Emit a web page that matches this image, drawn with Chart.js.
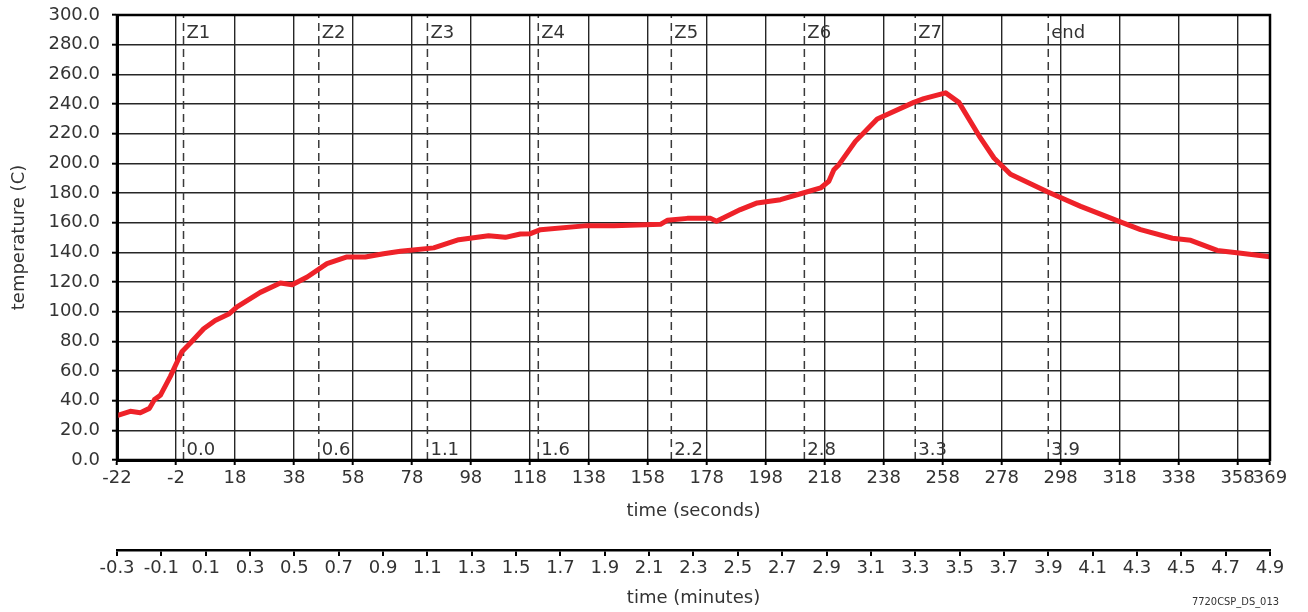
<!DOCTYPE html>
<html>
<head>
<meta charset="utf-8">
<script src="https://cdn.jsdelivr.net/npm/chart.js@4.4.1/dist/chart.umd.min.js"></script>
<style>
  html, body { margin: 0; padding: 0; background: #fff; }
  #wrap { position: relative; width: 1308px; height: 612px; }
</style>
</head>
<body>
<div id="wrap"><canvas id="c" width="1308" height="612"></canvas></div>
<script>
// ---- data ----
const timeSeconds = [-22, -17.5, -14.1, -11, -9.3, -7.3, -3.9, 0, 2.9, 7.4, 11.3, 15.9, 18.7, 26.6, 33.4, 37.4, 42.5, 49.2, 56, 62.2, 68.4, 74.1, 85.4, 93.9, 104, 109.7, 114.8, 118.2, 121.6, 137.4, 146.5, 162.3, 164.6, 171.4, 179.3, 181.3, 189.4, 195.1, 203, 209.8, 216.6, 219.4, 221.1, 222.8, 228.4, 235.8, 248.2, 251.6, 259, 263.5, 270.8, 275.4, 281, 293.5, 304.8, 317.8, 325.1, 335.9, 342.1, 351.1, 358.5, 369];
const temperature = [30, 32.8, 31.9, 34.8, 40.7, 43.6, 56.4, 73, 78.9, 88.5, 94.1, 98.4, 103.2, 113, 119.3, 118.2, 123.4, 132.4, 136.9, 136.9, 139.1, 140.7, 143, 148.5, 151.2, 150.1, 152.4, 152.6, 155.3, 158, 158, 158.9, 161.6, 162.9, 162.9, 160.9, 168.8, 173.3, 175.5, 179.5, 183.4, 187.9, 195.7, 199.1, 214.8, 229.9, 241.1, 243.6, 247.5, 241.1, 217.1, 203.6, 192.7, 180.8, 171, 160.9, 155.3, 149.5, 148.1, 141.3, 139.6, 137];
const secondTicks = [-22, -2, 18, 38, 58, 78, 98, 118, 138, 158, 178, 198, 218, 238, 258, 278, 298, 318, 338, 358, 369];
const minuteTicks = [-0.3, -0.1, 0.1, 0.3, 0.5, 0.7, 0.9, 1.1, 1.3, 1.5, 1.7, 1.9, 2.1, 2.3, 2.5, 2.7, 2.9, 3.1, 3.3, 3.5, 3.7, 3.9, 4.1, 4.3, 4.5, 4.7, 4.9];
const zoneNames = ['Z1', 'Z2', 'Z3', 'Z4', 'Z5', 'Z6', 'Z7', 'end'];
const zoneMinutes = [0.0, 0.61, 1.1, 1.6, 2.2, 2.8, 3.3, 3.9];
const zoneLabels = ['0.0', '0.6', '1.1', '1.6', '2.2', '2.8', '3.3', '3.9'];
const figureId = '7720CSP_DS_013';

const FONT = "'DejaVu Sans', sans-serif";
const TXT = '#333333';
const GRID = '#262626';

const profile = timeSeconds.map((t, i) => ({ x: t, y: temperature[i] }));
const zoneSets = zoneMinutes.map((m, i) => ({
  label: zoneNames[i],
  data: [{ x: m, y: 0 }, { x: m, y: 300 }],
  xAxisID: 'x2',
  borderColor: '#3a3a3a',
  borderWidth: 1.5,
  borderDash: [8, 5],
  pointRadius: 0,
  order: 2
}));

const overlay = {
  id: 'overlay',
  afterDatasetsDraw(chart) {
    const { ctx, chartArea, scales } = chart;
    ctx.save();
    ctx.font = '18px ' + FONT;
    ctx.fillStyle = TXT;
    ctx.textAlign = 'left';
    ctx.textBaseline = 'middle';
    zoneMinutes.forEach((m, i) => {
      const px = scales.x2.getPixelForValue(m);
      ctx.fillText(zoneNames[i], px + 3, chartArea.top + 18);
      ctx.fillText(zoneLabels[i], px + 3, chartArea.bottom - 10);
    });
    ctx.restore();
  },
  afterDraw(chart) {
    const { ctx, chartArea } = chart;
    ctx.save();
    ctx.strokeStyle = '#000';
    ctx.lineWidth = 2.5;
    ctx.strokeRect(chartArea.left, chartArea.top, chartArea.right - chartArea.left, chartArea.bottom - chartArea.top);
    ctx.font = "11px 'DejaVu Sans Condensed', 'DejaVu Sans', sans-serif";
    ctx.fillStyle = TXT;
    ctx.textAlign = 'right';
    ctx.textBaseline = 'middle';
    ctx.fillText(figureId, 1279, 602);
    ctx.restore();
  }
};

new Chart(document.getElementById('c'), {
  type: 'line',
  data: {
    datasets: [{
      label: 'temperature',
      data: profile,
      xAxisID: 'x',
      yAxisID: 'y',
      borderColor: '#ee2229',
      borderWidth: 5,
      pointRadius: 0,
      tension: 0,
      borderJoinStyle: 'round',
      borderCapStyle: 'round',
      order: 0
    }].concat(zoneSets)
  },
  options: {
    responsive: false,
    animation: false,
    events: [],
    layout: { padding: { top: 15, right: 38, left: 0, bottom: 0 } },
    plugins: { legend: { display: false }, tooltip: { enabled: false } },
    scales: {
      x: {
        type: 'linear',
        position: 'bottom',
        weight: 0,
        min: -22, max: 369,
        afterBuildTicks(s) { s.ticks = secondTicks.map(v => ({ value: v })); },
        afterFit(s) { s.height = 90; },
        ticks: { color: TXT, font: { family: FONT, size: 18 }, padding: 3, maxRotation: 0, autoSkip: false, callback: v => String(v) },
        grid: { color: GRID, lineWidth: 1.4, tickLength: 5, tickColor: '#000', tickWidth: 2 },
        border: { color: '#000', width: 3 },
        title: { display: true, text: 'time (seconds)', color: TXT, font: { family: FONT, size: 18 }, padding: { top: 0, bottom: 28 } }
      },
      x2: {
        type: 'linear',
        position: 'bottom',
        weight: 1,
        min: -0.3, max: 4.9,
        afterBuildTicks(s) { s.ticks = minuteTicks.map(v => ({ value: v })); },
        afterFit(s) { s.height = 62; },
        ticks: { color: TXT, font: { family: FONT, size: 18 }, padding: 2, maxRotation: 0, autoSkip: false, callback: v => v.toFixed(1) },
        grid: { drawOnChartArea: false, color: '#000', lineWidth: 2, tickLength: 6 },
        border: { color: '#000', width: 2.5 },
        title: { display: true, text: 'time (minutes)', color: TXT, font: { family: FONT, size: 18 }, padding: { top: 0, bottom: 3 } }
      },
      y: {
        type: 'linear',
        position: 'left',
        min: 0, max: 300,
        ticks: { stepSize: 20, color: TXT, font: { family: FONT, size: 18 }, padding: 12, callback: v => v.toFixed(1) },
        afterFit(s) { s.width = 117; s.paddingTop = 0; s.paddingBottom = 0; },
        grid: { color: GRID, lineWidth: 1.4, tickLength: 5, tickColor: '#000', tickWidth: 2 },
        border: { color: '#000', width: 3 },
        title: { display: true, text: 'temperature (C)', color: TXT, font: { family: FONT, size: 18 }, padding: { top: 9, bottom: 0 } }
      }
    }
  },
  plugins: [overlay]
});
</script>
</body>
</html>
